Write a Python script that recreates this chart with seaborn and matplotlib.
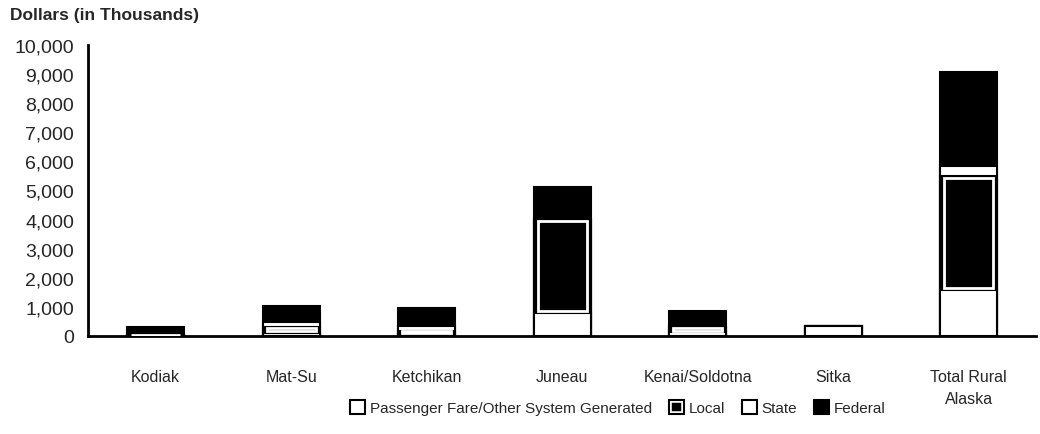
import numpy as np
import pandas as pd
import seaborn as sns
import matplotlib.pyplot as plt
from matplotlib.patches import Patch, Rectangle
from matplotlib.legend_handler import HandlerTuple

# values (dollars in thousands)
categories = ['Kodiak', 'Mat-Su', 'Ketchikan', 'Juneau', 'Kenai/Soldotna', 'Sitka', 'Total Rural\nAlaska']
passenger = [20, 120, 80, 790, 130, 340, 1580]
local = [30, 180, 100, 3230, 170, 0, 3920]
state = [10, 180, 170, 0, 0, 0, 340]
federal = [240, 550, 620, 1100, 560, 0, 3230]
yticks = list(range(0, 10001, 1000))

sns.set_style('white')
plt.rcParams['font.family'] = ['Liberation Sans', 'DejaVu Sans']

df = pd.DataFrame({'cat': categories, 'pf': passenger, 'local': local,
                   'state': state, 'federal': federal})
df['c_pf'] = df['pf']
df['c_local'] = df['c_pf'] + df['local']
df['c_state'] = df['c_local'] + df['state']
df['c_fed'] = df['c_state'] + df['federal']

fig = plt.figure(figsize=(10.4, 4.35), dpi=100)
ax = fig.add_axes([0.0846, 0.2253, 0.912, 0.669])

bw = 0.42
# overlapping cumulative bars, tallest first
layers = [('c_fed', 'black'), ('c_state', 'white'), ('c_local', 'black'), ('c_pf', 'white')]
for col, colr in layers:
    n_before = len(ax.patches)
    sns.barplot(data=df, x='cat', y=col, color=colr, saturation=1, width=bw,
                edgecolor='black', linewidth=1.5, ax=ax, order=categories)
    if col == 'c_local':
        local_patches = ax.patches[n_before:]

# white inner outline of the local segments
for i, p in enumerate(local_patches):
    h = local[i]
    if h <= 0:
        continue
    inset = min(70, h * 0.22)
    w = p.get_width()
    r = Rectangle((p.get_x() + w * 0.07, passenger[i] + inset), w * 0.86, h - 2 * inset,
                  facecolor='none', edgecolor='white', linewidth=2, zorder=5)
    ax.add_patch(r)

ax.set_xlim(-0.5, len(categories) - 0.5)
ax.set_ylim(0, 10000)
ax.set_yticks(yticks)
ax.set_yticklabels([f'{v:,}' for v in yticks], fontsize=14)
ax.set_xlabel('')
ax.set_ylabel('')
ax.set_xticks(range(len(categories)))
ax.set_xticklabels(categories, fontsize=11.5, linespacing=1.55)
ax.set_xticks(np.arange(-0.5, len(categories), 1), minor=True)
ax.tick_params(axis='x', which='major', length=0, pad=24)
ax.tick_params(axis='x', which='minor', direction='inout', length=12, width=1.8)
ax.tick_params(axis='y', direction='inout', length=12, width=1.8, pad=4)

for s in ['top', 'right']:
    ax.spines[s].set_visible(False)
for s in ['left', 'bottom']:
    ax.spines[s].set_linewidth(2)
    ax.spines[s].set_color('black')

fig.text(0.01, 0.965, 'Dollars (in Thousands)', fontsize=12.5, fontweight='bold', va='center')

h_pf = Patch(facecolor='white', edgecolor='black', linewidth=1.5)
h_local = (Patch(facecolor='black', edgecolor='white', linewidth=4),
           Patch(facecolor='none', edgecolor='black', linewidth=1.5))
h_state = Patch(facecolor='white', edgecolor='black', linewidth=1.5)
h_fed = Patch(facecolor='black', edgecolor='black', linewidth=1.5)
fig.legend([h_pf, h_local, h_state, h_fed],
           ['Passenger Fare/Other System Generated', 'Local', 'State', 'Federal'],
           handler_map={tuple: HandlerTuple(ndivide=1)},
           loc='center', bbox_to_anchor=(0.594, 0.06), ncol=4, frameon=False,
           fontsize=11, handlelength=1.0, handleheight=1.0, handletextpad=0.3,
           columnspacing=1.1)

fig.savefig('out.png', dpi=100)
